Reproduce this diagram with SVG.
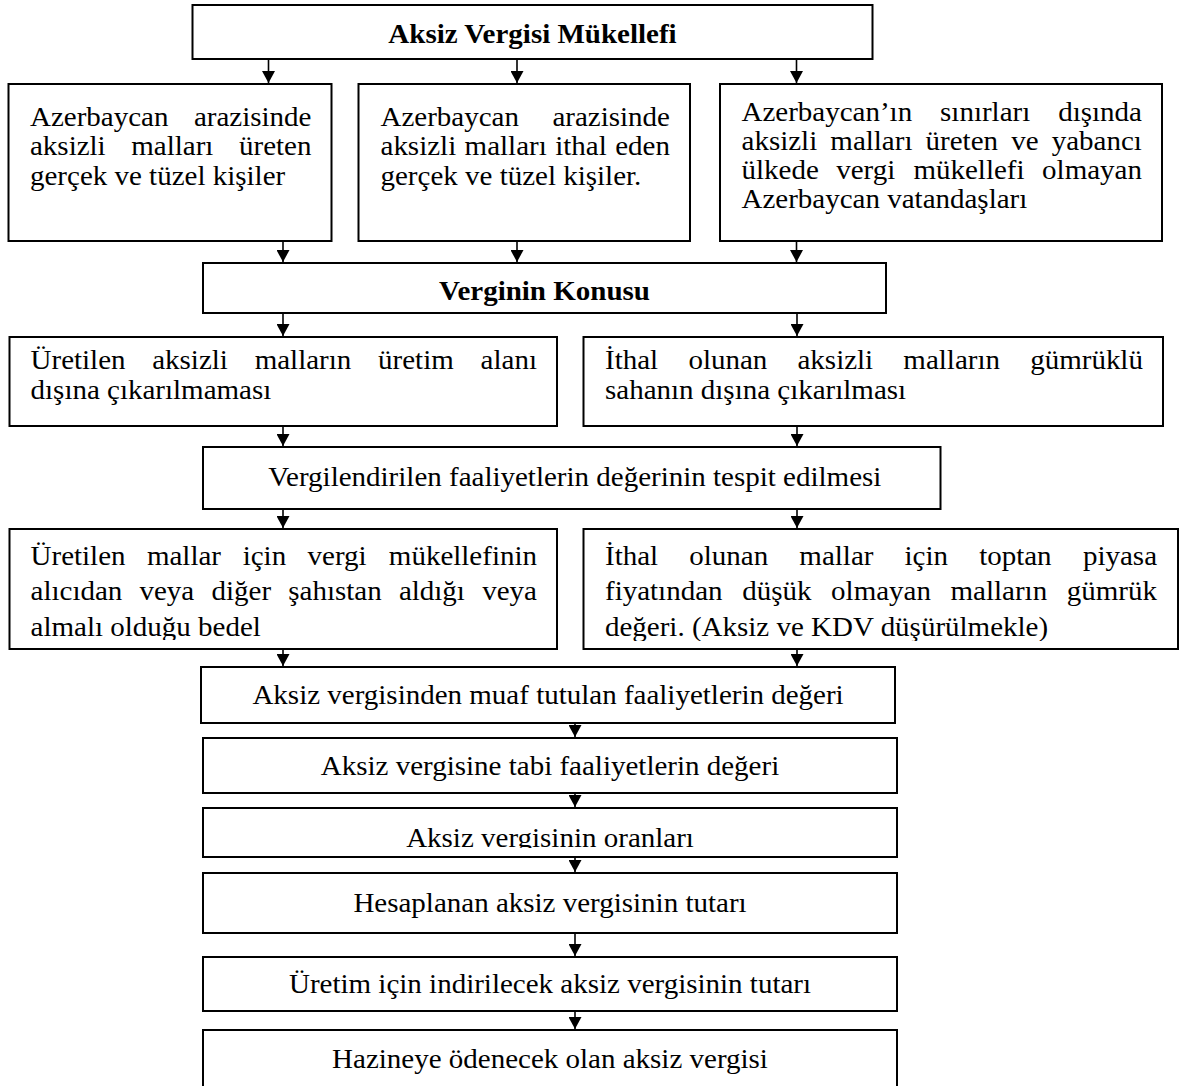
<svg xmlns="http://www.w3.org/2000/svg" width="1189" height="1086" viewBox="0 0 1189 1086">
<style>
.box{fill:#fff;stroke:#000;stroke-width:2}
.t{font-family:"Liberation Serif","Times New Roman",serif;font-size:26.5px;fill:#000}
.b{font-weight:bold}
.c{text-anchor:middle}
.con line{stroke:#000;stroke-width:1.6;marker-end:url(#ah)}
</style>
<defs>
<marker id="ah" markerUnits="userSpaceOnUse" markerWidth="12" markerHeight="13" refX="12" refY="6.5" orient="auto" viewBox="0 0 12 13"><path d="M0,0 L12,6.5 L0,13 z" fill="#000"/></marker>
<clipPath id="clipOran" clipPathUnits="userSpaceOnUse"><rect x="203" y="808" width="694" height="40"/></clipPath>
<clipPath id="clipUreM" clipPathUnits="userSpaceOnUse"><rect x="9" y="529" width="548" height="111"/></clipPath>
<clipPath id="clipIthM" clipPathUnits="userSpaceOnUse"><rect x="583" y="529" width="595" height="112"/></clipPath>
</defs>
<rect width="1189" height="1086" fill="#fff"/>

<g id="connectors" class="con">
<line x1="268.5" y1="59" x2="268.5" y2="83"/>
<line x1="517" y1="59" x2="517" y2="83"/>
<line x1="796.5" y1="59" x2="796.5" y2="83"/>
<line x1="283" y1="241" x2="283" y2="262"/>
<line x1="517" y1="241" x2="517" y2="262"/>
<line x1="796.5" y1="241" x2="796.5" y2="262"/>
<line x1="283" y1="313" x2="283" y2="336"/>
<line x1="797" y1="313" x2="797" y2="336"/>
<line x1="283" y1="426" x2="283" y2="446"/>
<line x1="797" y1="426" x2="797" y2="446"/>
<line x1="283" y1="509" x2="283" y2="528"/>
<line x1="797" y1="509" x2="797" y2="528"/>
<line x1="283" y1="649" x2="283" y2="666"/>
<line x1="797" y1="649" x2="797" y2="666"/>
<line x1="575" y1="723" x2="575" y2="737"/>
<line x1="575" y1="793" x2="575" y2="807"/>
<line x1="575" y1="857" x2="575" y2="872"/>
<line x1="575" y1="933" x2="575" y2="956"/>
<line x1="575" y1="1011" x2="575" y2="1029"/>
</g>

<g id="n_mukellef">
<rect class="box" x="192.5" y="5" width="680" height="54"/>
<text class="t b c" transform="scale(1.095,1)" x="486.3" y="43.5">Aksiz Vergisi Mükellefi</text>
</g>

<g id="n_ureten">
<rect class="box" x="8.5" y="84" width="323" height="157"/>
<text class="t" transform="scale(1.095,1)" y="126"><tspan x="27.4">Azerbaycan</tspan><tspan x="177.1">arazisinde</tspan></text>
<text class="t" transform="scale(1.095,1)" y="155.5"><tspan x="27.4">aksizli</tspan><tspan x="119.9">malları</tspan><tspan x="218.3">üreten</tspan></text>
<text class="t" transform="scale(1.095,1)" x="27.4" y="185">gerçek ve tüzel kişiler</text>
</g>

<g id="n_ithal_eden">
<rect class="box" x="358.5" y="84" width="331.5" height="157"/>
<text class="t" transform="scale(1.095,1)" y="126"><tspan x="347.5">Azerbaycan</tspan><tspan x="504.5">arazisinde</tspan></text>
<text class="t" transform="scale(1.095,1)" y="155.5"><tspan x="347.5">aksizli</tspan><tspan x="424.3">malları</tspan><tspan x="507">ithal</tspan><tspan x="561.8">eden</tspan></text>
<text class="t" transform="scale(1.095,1)" x="347.5" y="185">gerçek ve tüzel kişiler.</text>
</g>

<g id="n_vatandas">
<rect class="box" x="720" y="84" width="442" height="157"/>
<text class="t" transform="scale(1.095,1)" y="121.5"><tspan x="677.2">Azerbaycan’ın</tspan><tspan x="858.5">sınırları</tspan><tspan x="966.4">dışında</tspan></text>
<text class="t" transform="scale(1.095,1)" y="150.5"><tspan x="677.2">aksizli</tspan><tspan x="758.3">malları</tspan><tspan x="845.3">üreten</tspan><tspan x="923.5">ve</tspan><tspan x="960.5">yabancı</tspan></text>
<text class="t" transform="scale(1.095,1)" y="179.5"><tspan x="677.2">ülkede</tspan><tspan x="763.7">vergi</tspan><tspan x="834.2">mükellefi</tspan><tspan x="951.7">olmayan</tspan></text>
<text class="t" transform="scale(1.095,1)" x="677.2" y="208.5">Azerbaycan vatandaşları</text>
</g>

<g id="n_konusu">
<rect class="box" x="203" y="263" width="683" height="50"/>
<text class="t b c" transform="scale(1.095,1)" x="497.3" y="300">Verginin Konusu</text>
</g>

<g id="n_uretilen_aksizli">
<rect class="box" x="9.5" y="337" width="547.5" height="89"/>
<text class="t" transform="scale(1.095,1)" y="369.5"><tspan x="27.9">Üretilen</tspan><tspan x="139">aksizli</tspan><tspan x="232.6">malların</tspan><tspan x="345.3">üretim</tspan><tspan x="438.9">alanı</tspan></text>
<text class="t" transform="scale(1.095,1)" x="27.9" y="399">dışına çıkarılmaması</text>
</g>

<g id="n_ithal_aksizli">
<rect class="box" x="583.5" y="337" width="579.5" height="89"/>
<text class="t" transform="scale(1.095,1)" y="369.5"><tspan x="552.5">İthal</tspan><tspan x="628.7">olunan</tspan><tspan x="728.3">aksizli</tspan><tspan x="825">malların</tspan><tspan x="940.8">gümrüklü</tspan></text>
<text class="t" transform="scale(1.095,1)" x="552.5" y="399">sahanın dışına çıkarılması</text>
</g>

<g id="n_deger_tespit">
<rect class="box" x="203" y="447" width="737.5" height="62"/>
<text class="t c" transform="scale(1.095,1)" x="525" y="486">Vergilendirilen faaliyetlerin değerinin tespit edilmesi</text>
</g>

<g id="n_uretilen_mallar">
<rect class="box" x="9.5" y="529" width="547.5" height="120"/>
<g clip-path="url(#clipUreM)">
<text class="t" transform="scale(1.095,1)" y="565"><tspan x="27.9">Üretilen</tspan><tspan x="134.2">mallar</tspan><tspan x="221.6">için</tspan><tspan x="280.9">vergi</tspan><tspan x="355.1">mükellefinin</tspan></text>
<text class="t" transform="scale(1.095,1)" y="600.5"><tspan x="27.9">alıcıdan</tspan><tspan x="127.4">veya</tspan><tspan x="193.2">diğer</tspan><tspan x="263.3">şahıstan</tspan><tspan x="364.3">aldığı</tspan><tspan x="440.4">veya</tspan></text>
<text class="t" transform="scale(1.095,1)" x="27.9" y="636">almalı olduğu bedel</text>
</g>
</g>

<g id="n_ithal_mallar">
<rect class="box" x="583.5" y="529" width="594.5" height="120"/>
<g clip-path="url(#clipIthM)">
<text class="t" transform="scale(1.095,1)" y="565"><tspan x="552.5">İthal</tspan><tspan x="629.5">olunan</tspan><tspan x="730">mallar</tspan><tspan x="826">için</tspan><tspan x="894.2">toptan</tspan><tspan x="989">piyasa</tspan></text>
<text class="t" transform="scale(1.095,1)" y="600.5"><tspan x="552.5">fiyatından</tspan><tspan x="677.8">düşük</tspan><tspan x="759">olmayan</tspan><tspan x="868.1">malların</tspan><tspan x="974.2">gümrük</tspan></text>
<text class="t" transform="scale(1.095,1)" x="552.5" y="636">değeri. (Aksiz ve KDV düşürülmekle)</text>
</g>
</g>

<g id="n_muaf">
<rect class="box" x="201" y="667" width="694" height="56"/>
<text class="t c" transform="scale(1.095,1)" x="500.5" y="704.5">Aksiz vergisinden muaf tutulan faaliyetlerin değeri</text>
</g>

<g id="n_tabi">
<rect class="box" x="203" y="738" width="694" height="55"/>
<text class="t c" transform="scale(1.095,1)" x="502.3" y="775">Aksiz vergisine tabi faaliyetlerin değeri</text>
</g>

<g id="n_oranlar">
<rect class="box" x="203" y="808" width="694" height="49"/>
<g clip-path="url(#clipOran)">
<text class="t c" transform="scale(1.095,1)" x="502.3" y="847">Aksiz vergisinin oranları</text>
</g>
</g>

<g id="n_hesaplanan">
<rect class="box" x="203" y="873" width="694" height="60"/>
<text class="t c" transform="scale(1.095,1)" x="502.3" y="912">Hesaplanan aksiz vergisinin tutarı</text>
</g>

<g id="n_indirilecek">
<rect class="box" x="203" y="957" width="694" height="54"/>
<text class="t c" transform="scale(1.095,1)" x="502.3" y="993">Üretim için indirilecek aksiz vergisinin tutarı</text>
</g>

<g id="n_hazine">
<rect class="box" x="203" y="1030" width="694" height="62"/>
<text class="t c" transform="scale(1.095,1)" x="502.3" y="1068">Hazineye ödenecek olan aksiz vergisi</text>
</g>
</svg>
